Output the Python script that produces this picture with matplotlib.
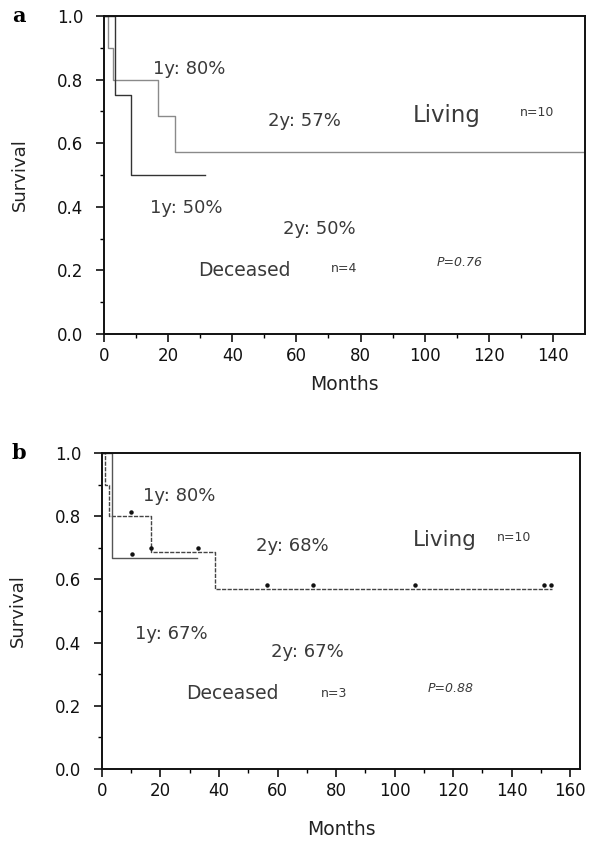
import matplotlib
matplotlib.use("Agg")
import matplotlib.pyplot as plt
import matplotlib.transforms as mtransforms
import numpy as np

# panel a: Kaplan-Meier steps
a_living_t = [0, 1.2, 2.8, 16.8, 22.0, 150]
a_living_s = [1.0, 0.9, 0.8, 0.686, 0.571, 0.571]
a_dec_t = [0, 3.5, 8.5, 31.5]
a_dec_s = [1.0, 0.75, 0.5, 0.5]

# panel b
b_living_t = [0, 1.0, 2.5, 16.8, 38.6, 154]
b_living_s = [1.0, 0.9, 0.8, 0.686, 0.571, 0.571]
b_living_cens = [10, 16.9, 32.7, 56.5, 72, 107, 151, 153.5]
b_dec_t = [0, 3.5, 32.4]
b_dec_s = [1.0, 0.667, 0.667]
b_dec_cens = [10.3]

# annotation text (label, x, y, size, style)
a_texts = [
    ("1y: 80%", 15.3, 0.833, 13, "normal"),
    ("2y: 57%", 51.1, 0.67, 13, "normal"),
    ("Living", 96.4, 0.686, 16.5, "normal"),
    ("n=10", 129.7, 0.695, 9, "normal"),
    ("1y: 50%", 14.3, 0.396, 13, "normal"),
    ("2y: 50%", 55.8, 0.33, 13, "normal"),
    ("Deceased", 29.3, 0.20, 13.5, "normal"),
    ("n=4", 70.8, 0.207, 9, "normal"),
    ("P=0.76", 103.8, 0.226, 9, "italic"),
]
b_texts = [
    ("1y: 80%", 14.0, 0.864, 13, "normal"),
    ("2y: 68%", 52.6, 0.706, 13, "normal"),
    ("Living", 106.3, 0.725, 15.5, "normal"),
    ("n=10", 135.0, 0.734, 9, "normal"),
    ("1y: 67%", 11.3, 0.427, 13, "normal"),
    ("2y: 67%", 57.8, 0.37, 13, "normal"),
    ("Deceased", 28.7, 0.24, 13.5, "normal"),
    ("n=3", 74.9, 0.24, 9, "normal"),
    ("P=0.88", 111.5, 0.256, 9, "italic"),
]

plt.rcParams["font.family"] = ["DejaVu Sans"]

fig = plt.figure(figsize=(5.93, 8.46), dpi=100)
ax_a = fig.add_axes([0.1754, 0.6052, 0.811, 0.3759])
ax_b = fig.add_axes([0.172, 0.091, 0.806, 0.3735])


def step_value(t, s, x):
    idx = np.searchsorted(t, x, side="right") - 1
    return np.array(s)[idx]


def style_axes(ax, xmax, xticks, xpad):
    ax.set_xlim(0, xmax)
    ax.set_ylim(0, 1.0)
    ax.set_xticks(xticks)
    ax.set_xticks(np.arange(10, xmax, 20), minor=True)
    ax.set_yticks(np.arange(0, 1.01, 0.2))
    ax.set_yticks(np.arange(0.1, 1.0, 0.2), minor=True)
    ax.yaxis.set_major_formatter(matplotlib.ticker.FormatStrFormatter("%.1f"))
    ax.tick_params(axis="both", which="major", length=6, width=1.2, labelsize=12, colors="#111111")
    ax.tick_params(axis="y", which="major", pad=9)
    ax.tick_params(axis="both", which="minor", length=3, width=1.0)
    for sp in ax.spines.values():
        sp.set_linewidth(1.4)
        sp.set_color("#111111")
    ax.set_ylabel("Survival", fontsize=13, labelpad=20, color="#222222")
    ax.set_xlabel("Months", fontsize=13.5, labelpad=xpad, color="#222222")


# panel a
ax_a.step(a_living_t, a_living_s, where="post", color="#8a8a8a", lw=1.0)
ax_a.step(a_dec_t, a_dec_s, where="post", color="#333333", lw=1.0)
for label, x, y, fs, st in a_texts:
    ax_a.text(x, y, label, fontsize=fs, style=st, color="#3a3a3a", va="center", ha="left")
style_axes(ax_a, 150, np.arange(0, 141, 20), 7)
fig.text(0.02, 0.981, "a", fontsize=15, fontweight="bold", family="DejaVu Serif", va="center")

# panel b
ax_b.step(b_living_t, b_living_s, where="post", color="#444444", lw=1.0, ls=(0, (3, 1)))
ax_b.step(b_dec_t, b_dec_s, where="post", color="#555555", lw=1.0)
up = mtransforms.offset_copy(ax_b.transData, fig=fig, x=0, y=4, units="dots")
ax_b.plot(b_living_cens, step_value(b_living_t, b_living_s, b_living_cens), "o",
          color="#111111", ms=2.2, transform=up, ls="none")
ax_b.plot(b_dec_cens, step_value(b_dec_t, b_dec_s, b_dec_cens), "o",
          color="#111111", ms=2.2, transform=up, ls="none")
for label, x, y, fs, st in b_texts:
    ax_b.text(x, y, label, fontsize=fs, style=st, color="#3a3a3a", va="center", ha="left")
style_axes(ax_b, 163.4, np.arange(0, 161, 20), 14)
fig.text(0.02, 0.465, "b", fontsize=15, fontweight="bold", family="DejaVu Serif", va="center")

fig.savefig("out.png", dpi=100)
